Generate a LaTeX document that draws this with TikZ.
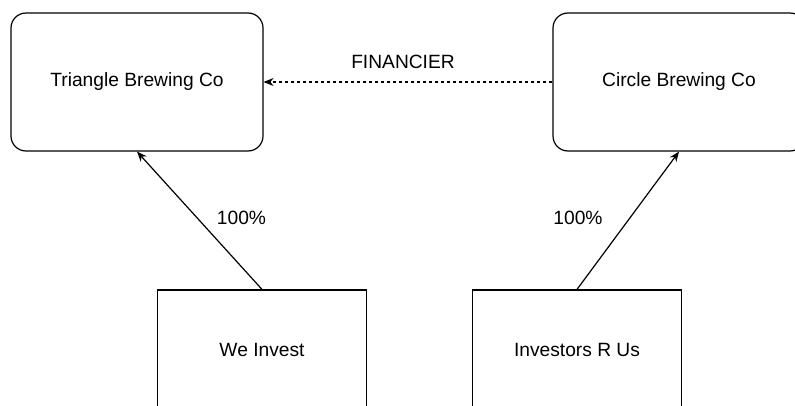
\documentclass[tikz,border=0pt]{standalone}
\usepackage{fontspec}
\setmainfont{Liberation Sans}
\usetikzlibrary{arrows.meta}

\begin{document}
\begin{tikzpicture}[x=1bp,y=1bp,
		every node/.style={font=\fontsize{19.2bp}{23bp}\selectfont},
		firm/.style={draw, line width=1.2bp, rounded corners=15bp, minimum width=252bp, minimum height=138bp},
		holder/.style={draw, line width=1.2bp, minimum width=209bp, minimum height=120bp},
		own/.style={line width=1.2bp, -{Stealth[length=10bp,width=8bp]}}]
		\clip (0,0) rectangle (795,405);
		\node[firm] (triangle) at (137,323) {Triangle Brewing Co};
		\node[firm] (circle) at (679,323) {Circle Brewing Co};
		\node[holder] (weinvest) at (262,55) {We Invest};
		\node[holder] (investors) at (577,55) {Investors R Us};
		\draw[own, dash pattern=on 3bp off 3bp] (circle.west) -- (triangle.east)
			node[midway, yshift=20bp, xshift=-5bp] (financier) {FINANCIER};
		\draw[own] (weinvest.north) -- (triangle.south)
			node[midway, xshift=42bp, yshift=3bp] (pctleft) {100\%};
		\draw[own] (investors.north) -- (circle.south)
			node[midway, xshift=-50bp, yshift=3bp] (pctright) {100\%};
	\end{tikzpicture}
\end{document}
